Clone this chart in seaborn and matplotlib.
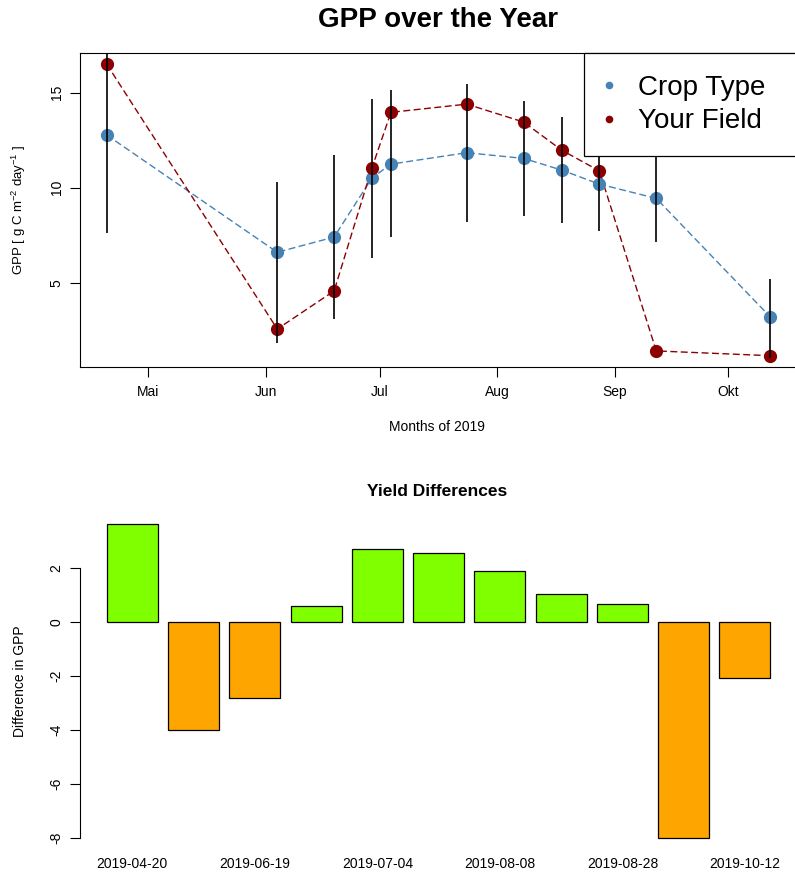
import pandas as pd
import numpy as np
import matplotlib
matplotlib.use('Agg')
import matplotlib.pyplot as plt
import matplotlib.dates as mdates
import seaborn as sns


# sampling dates (2019)
dates = ["2019-04-20", "2019-06-04", "2019-06-19", "2019-06-29", "2019-07-04", "2019-07-24",
         "2019-08-08", "2019-08-18", "2019-08-28", "2019-09-12", "2019-10-12"]

crop_type = [12.77, 6.61, 7.41, 10.52, 11.24, 11.84, 11.54, 10.93, 10.19, 9.44, 3.23]
your_field = [16.49, 2.58, 4.58, 11.05, 13.96, 14.39, 13.45, 11.98, 10.88, 1.43, 1.18]
err_low = [7.64, 1.83, 3.09, 6.29, 7.41, 8.18, 8.51, 8.13, 7.74, 7.15, 1.05]
err_high = [17.9, 10.28, 11.70, 14.64, 15.13, 15.46, 14.57, 13.71, 12.64, 11.73, 5.21]

yield_diff = [3.62, -4.00, -2.83, 0.57, 2.70, 2.53, 1.89, 1.01, 0.67, -8.01, -2.09]

month_ticks = ["2019-05-01", "2019-06-01", "2019-07-01", "2019-08-01", "2019-09-01", "2019-10-01"]
month_labels = ["Mai", "Jun", "Jul", "Aug", "Sep", "Okt"]

BLUE = "#4682B4"
RED = "#8B0000"
GREEN = "#7FFF00"
ORANGE = "#FFA500"

sns.set_style("ticks")
plt.rcParams['font.family'] = ['Liberation Sans', 'DejaVu Sans']
plt.rcParams['mathtext.fontset'] = 'custom'
plt.rcParams['mathtext.rm'] = 'Liberation Sans'
plt.rcParams['mathtext.it'] = 'Liberation Sans:italic'
plt.rcParams['axes.unicode_minus'] = False
plt.rcParams['text.color'] = 'black'
plt.rcParams['axes.labelcolor'] = 'black'

W, H = 795, 872
fig = plt.figure(figsize=(W / 100, H / 100), dpi=100)


def frac_box(left, top, right, bottom):
    return [left / W, 1 - bottom / H, (right - left) / W, (bottom - top) / H]


# ---------------- top panel ----------------
df = pd.DataFrame({
    "date": pd.to_datetime(dates),
    "crop": crop_type,
    "field": your_field,
    "lo": err_low,
    "hi": err_high,
})

ax1 = fig.add_axes(frac_box(80.2, 53.3, 795, 367.3))
sns.lineplot(data=df, x="date", y="crop", ax=ax1, color=BLUE, lw=1,
             dashes=False, zorder=2)
sns.lineplot(data=df, x="date", y="field", ax=ax1, color=RED, lw=1,
             dashes=False, zorder=2)
for ln in ax1.lines:
    ln.set_dashes((5, 2.5))
ax1.plot(df["date"], df["crop"], 'o', color=BLUE, ms=9.5, mew=0, zorder=3)
ax1.plot(df["date"], df["field"], 'o', color=RED, ms=9.5, mew=0, zorder=3)
ax1.vlines(df["date"], df["lo"], df["hi"], color="black", lw=1.2, zorder=4)

start = pd.Timestamp("2019-04-20")
ax1.set_xlim(mdates.date2num(start - pd.Timedelta(days=6.99)),
             mdates.date2num(start + pd.Timedelta(days=181.6)))
ax1.set_ylim(0.57, 17.06)
ax1.set_xticks(pd.to_datetime(month_ticks))
ax1.set_xticklabels(month_labels)
ax1.set_yticks([5, 10, 15])
ax1.set_yticklabels(["5", "10", "15"], rotation=90, va="center")
ax1.tick_params(axis="both", length=7, width=0.8, labelsize=10, colors="black", pad=5)
ax1.tick_params(axis="x", pad=6)
ax1.set_xlabel("")
ax1.set_ylabel("")
for side in ["left", "bottom", "top"]:
    ax1.spines[side].set_linewidth(0.8)
    ax1.spines[side].set_color("black")
ax1.spines["right"].set_visible(False)

h1, = ax1.plot([], [], 'o', color=BLUE, ms=5.5, mew=0)
h2, = ax1.plot([], [], 'o', color=RED, ms=5.5, mew=0)
x0 = (584.3 - 80.2) / (795 - 80.2)
leg = ax1.legend([h1, h2], ["Crop Type", "Your Field"], loc="upper left",
                 bbox_to_anchor=(x0, 0, 1.05 - x0, 1.0), mode="expand",
                 fontsize=20, frameon=True, fancybox=False, borderaxespad=0,
                 borderpad=0.78, labelspacing=0.27, handlelength=0.25,
                 handletextpad=0.9, framealpha=1)
leg.get_frame().set_edgecolor("black")
leg.get_frame().set_linewidth(0.9)
leg.set_zorder(10)

fig.text(438.5 / W, 1 - 20 / H, "GPP over the Year", ha="center", va="center",
         fontsize=20, fontweight="bold")
fig.text(437 / W, 1 - 427 / H, "Months of 2019", ha="center", va="center", fontsize=10)
fig.text(19 / W, 1 - 210 / H, r"GPP [ g C m$^{-2}$ day$^{-1}$ ]", ha="center",
         va="center", rotation=90, fontsize=9.5)

# ---------------- bottom panel ----------------
bars = pd.DataFrame({"date": dates, "diff": yield_diff})
bar_colors = [GREEN if v > 0 else ORANGE for v in yield_diff]

ax2 = fig.add_axes(frac_box(80.2, 511.3, 795, 850.7))
sns.barplot(data=bars, x="date", y="diff", hue="date", palette=bar_colors,
            dodge=False, legend=False, width=1 / 1.2, saturation=1,
            edgecolor="black", linewidth=0.9, ax=ax2)
ax2.set_xlim(-0.851, (795 - 132.35) / 61.26)
ax2.set_ylim(-8.48, 4.09)
ax2.set_xticks(range(0, len(dates), 2))
ax2.set_xticklabels(dates[::2])
ax2.set_yticks([-8, -6, -4, -2, 0, 2])
ax2.set_yticklabels(["-8", "-6", "-4", "-2", "0", "2"], rotation=90, va="center")
ax2.tick_params(axis="y", length=7, width=0.8, labelsize=10, colors="black", pad=5)
ax2.tick_params(axis="x", length=0, labelsize=10, colors="black", pad=4.5)
ax2.set_xlabel("")
ax2.set_ylabel("")
for side in ["right", "top", "bottom"]:
    ax2.spines[side].set_visible(False)
ax2.spines["left"].set_bounds(-8, 2)
ax2.spines["left"].set_linewidth(0.8)
ax2.spines["left"].set_color("black")

fig.text(437 / W, 1 - 491 / H, "Yield Differences", ha="center", va="center",
         fontsize=12.5, fontweight="bold")
fig.text(20 / W, 1 - 681 / H, "Difference in GPP", ha="center", va="center",
         rotation=90, fontsize=10)

fig.savefig("out.png", dpi=100)
plt.close(fig)
